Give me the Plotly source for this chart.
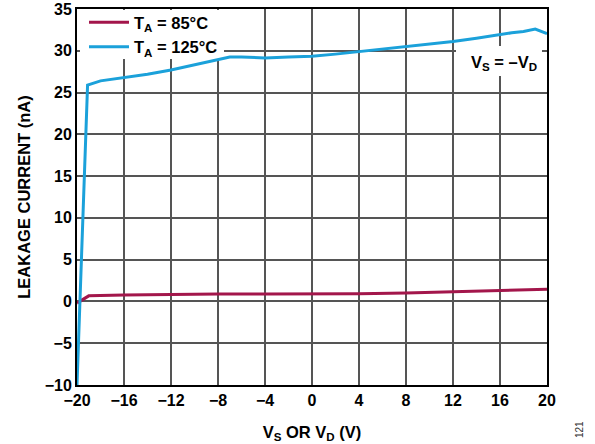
import plotly.graph_objects as go

x_85 = [-20, -19, -16, -12, -8, -4, 0, 4, 8, 12, 16, 20]
y_85 = [-0.2, 0.67, 0.78, 0.87, 0.88, 0.88, 0.88, 0.91, 1.02, 1.15, 1.28, 1.45]

x_125 = [-20, -19.1, -18, -16, -14, -12, -10, -8, -7, -6, -4, -2, 0, 2, 4, 6, 8, 10, 12, 14, 16, 17, 18, 19, 20]
y_125 = [-10, 25.9, 26.4, 26.8, 27.2, 27.7, 28.3, 28.9, 29.25, 29.25, 29.15, 29.25, 29.35, 29.6, 29.9, 30.2, 30.55, 30.8, 31.1, 31.5, 31.95, 32.15, 32.3, 32.6, 32.05]

x_ticks = [-20, -16, -12, -8, -4, 0, 4, 8, 12, 16, 20]
x_ticklabels = ["\u221220", "\u221216", "\u221212", "\u22128", "\u22124", "0", "4", "8", "12", "16", "20"]
y_ticks = [-10, -5, 0, 5, 10, 15, 20, 25, 30, 35]
y_ticklabels = ["\u221210", "\u22125", "0", "5", "10", "15", "20", "25", "30", "35"]

RED = "#A3164B"
BLUE = "#1BA1DA"
FONT = "Liberation Sans, Arial, sans-serif"

L, R, T, B = 77, 547, 9, 385
W, H = R - L, B - T
XMIN, XMAX, YMIN, YMAX = -20, 20, -10, 35


def dx(px):
    return (px - L) / W


def dy(py):
    return 1 - (py - T) / H


def vx(px):
    return XMIN + dx(px) * (XMAX - XMIN)


def vy(py):
    return YMIN + dy(py) * (YMAX - YMIN)


fig = go.Figure()
fig.add_trace(go.Scatter(x=x_85, y=y_85, mode="lines", name="<b>T<sub>A</sub> = 85°C</b>",
                         line=dict(color=RED, width=3)))
fig.add_trace(go.Scatter(x=x_125, y=y_125, mode="lines", name="<b>T<sub>A</sub> = 125°C</b>",
                         line=dict(color=BLUE, width=3)))

fig.update_layout(
    width=595, height=444,
    margin=dict(l=L, r=595 - R, t=T, b=444 - B, autoexpand=False),
    paper_bgcolor="white", plot_bgcolor="white",
    font=dict(family=FONT, size=16, color="black"),
    showlegend=True,
    legend=dict(x=dx(84), y=dy(5), xanchor="left", yanchor="top",
                bgcolor="rgba(255,255,255,0)", borderwidth=0,
                font=dict(family=FONT, size=16.5, color="black"),
                tracegroupgap=0, itemwidth=40),
    xaxis=dict(range=[XMIN, XMAX], tickvals=x_ticks, ticktext=x_ticklabels, automargin=False,
               showgrid=True, gridcolor="#555555", gridwidth=1.5,
               zeroline=False, showline=True, linecolor="black", linewidth=2, mirror=True,
               ticks="", tickfont=dict(family=FONT, size=16, color="black", weight="bold"),
               title=dict(text="<b>V<sub>S</sub> OR V<sub>D</sub> (V)</b>", font=dict(family=FONT, size=16.5), standoff=18)),
    yaxis=dict(range=[YMIN, YMAX], tickvals=y_ticks, ticktext=y_ticklabels, automargin=False,
               showgrid=True, gridcolor="#555555", gridwidth=1.5,
               zeroline=False, showline=True, linecolor="black", linewidth=2, mirror=True,
               ticks="", tickfont=dict(family=FONT, size=16, color="black", weight="bold"),
               title=dict(text="<b>LEAKAGE CURRENT (nA)</b>", font=dict(family=FONT, size=16.5), standoff=10)),
)

# white boxes behind legend and annotation (drawn between gridlines and traces)
fig.add_shape(type="rect", xref="x", yref="y", layer="between",
              x0=vx(80), x1=vx(224), y0=vy(59), y1=vy(10),
              fillcolor="white", line=dict(width=0))
fig.add_shape(type="rect", xref="x", yref="y", layer="between",
              x0=vx(456), x1=vx(542), y0=vy(76), y1=vy(46),
              fillcolor="white", line=dict(width=0))

fig.add_annotation(x=dx(504), y=dy(63), xref="x domain", yref="y domain",
                   xanchor="center", yanchor="middle",
                   text="<b>V<sub>S</sub> = \u2013V<sub>D</sub></b>", showarrow=False,
                   font=dict(family=FONT, size=16.5, color="black"))

fig.add_annotation(x=dx(579), y=dy(430), xref="x domain", yref="y domain",
                   xanchor="center", yanchor="middle",
                   text="121", showarrow=False, textangle=-90,
                   font=dict(family=FONT, size=10, color="#333333"))

fig.write_html("out.html")
